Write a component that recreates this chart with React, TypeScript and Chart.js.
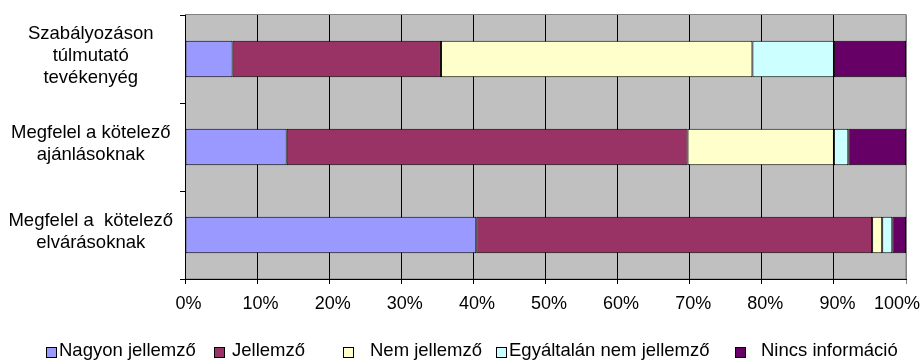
import React, { useEffect, useRef } from 'react';
import { Chart, registerables } from 'chart.js';

Chart.register(...registerables);

// ---- data ----
const categories: string[][] = [
  ['Szabályozáson', 'túlmutató', 'tevékenyég'],
  ['Megfelel a kötelező', 'ajánlásoknak'],
  ['Megfelel a  kötelező', 'elvárásoknak'],
];
const seriesNames = [
  'Nagyon jellemző',
  'Jellemző',
  'Nem jellemző',
  'Egyáltalán nem jellemző',
  'Nincs információ',
];
const nagyonJellemzo = [6.6, 14.1, 40.4];
const jellemzo = [28.9, 55.6, 54.9];
const nemJellemzo = [43.2, 20.3, 1.4];
const egyaltalanNemJellemzo = [11.3, 2.0, 1.4];
const nincsInformacio = [10.0, 8.0, 1.9];
const xTickValues = [0, 10, 20, 30, 40, 50, 60, 70, 80, 90, 100];

const seriesColors = ['#9999FF', '#993366', '#FFFFCC', '#CCFFFF', '#660066'];

const FONT = "'Liberation Sans', Arial, sans-serif";

export default function App() {
  const ref = useRef<HTMLCanvasElement | null>(null);

  useEffect(() => {
    if (!ref.current) return;
    const seriesValues = [
      nagyonJellemzo,
      jellemzo,
      nemJellemzo,
      egyaltalanNemJellemzo,
      nincsInformacio,
    ];

    const plotBackground = {
      id: 'plotBackground',
      beforeDraw(chart: any) {
        const { ctx, chartArea } = chart;
        ctx.save();
        ctx.fillStyle = '#C0C0C0';
        ctx.fillRect(chartArea.left, chartArea.top, chartArea.right - chartArea.left, chartArea.bottom - chartArea.top);
        ctx.strokeStyle = '#808080';
        ctx.lineWidth = 1;
        ctx.strokeRect(chartArea.left + 0.5, chartArea.top - 0.5, chartArea.right - chartArea.left - 0.5, chartArea.bottom - chartArea.top + 0.5);
        ctx.restore();
      },
    };

    const boxX = [46, 214, 343, 496, 735];
    const textX = [59, 232, 370, 509, 761];
    const customLegend = {
      id: 'customLegend',
      afterDraw(chart: any) {
        const { ctx } = chart;
        ctx.save();
        chart.data.datasets.forEach((ds: any, i: number) => {
          ctx.fillStyle = ds.backgroundColor;
          ctx.fillRect(boxX[i], 347.5, 10, 10);
          ctx.strokeStyle = '#000';
          ctx.lineWidth = 1;
          ctx.strokeRect(boxX[i] + 0.5, 347.5, 10, 10);
          ctx.fillStyle = '#000';
          ctx.font = `18.5px ${FONT}`;
          ctx.textBaseline = 'middle';
          ctx.textAlign = 'left';
          ctx.fillText(ds.label, textX[i], 351);
        });
        ctx.restore();
      },
    };

    const chart = new Chart(ref.current, {
      type: 'bar',
      data: {
        labels: categories,
        datasets: seriesNames.map((name, i) => ({
          label: name,
          data: seriesValues[i],
          backgroundColor: seriesColors[i],
          borderColor: '#000000',
          borderWidth: 1,
          borderSkipped: false,
          barPercentage: 0.416,
          categoryPercentage: 1,
        })),
      },
      options: {
        indexAxis: 'y',
        responsive: false,
        animation: false,
        layout: { padding: { top: 15, right: 15, bottom: 36, left: 0 } },
        plugins: {
          legend: { display: false },
          tooltip: { enabled: false },
        },
        scales: {
          x: {
            stacked: true,
            min: 0,
            max: 100,
            afterBuildTicks(scale: any) {
              scale.ticks = xTickValues.map((v) => ({ value: v }));
            },
            afterFit(scale: any) {
              scale.height = 45;
              scale.paddingRight = 0;
              scale.paddingLeft = 0;
            },
            ticks: {
              color: '#000',
              font: { family: FONT, size: 18 },
              padding: 9,
              labelOffset: 3.5,
              maxRotation: 0,
              autoSkip: false,
              callback: (v: any) => (v === 100 ? v + '%     ' : v + '%'),
            },
            grid: {
              color: (c: any) => (c.tick && c.tick.value === 100 ? '#808080' : '#000000'),
              tickLength: 5,
              lineWidth: 1,
            },
            border: { color: '#000000', width: 1 },
          },
          y: {
            stacked: true,
            offset: true,
            afterFit(scale: any) {
              scale.width = 185;
              scale.paddingTop = 0;
              scale.paddingBottom = 0;
            },
            ticks: {
              color: '#000',
              font: { family: FONT, size: 18.5 },
              crossAlign: 'center',
              padding: 7,
              labelOffset: -3,
            },
            grid: {
              offset: true,
              drawOnChartArea: false,
              tickLength: 5,
              color: '#000000',
            },
            border: { color: '#000000', width: 1 },
          },
        },
      },
      plugins: [plotBackground, customLegend],
    });

    return () => chart.destroy();
  }, []);

  return (
    <div style={{ position: 'absolute', left: 0, top: 0, width: 921, height: 360, background: '#fff' }}>
      <canvas ref={ref} width={921} height={360} />
    </div>
  );
}
